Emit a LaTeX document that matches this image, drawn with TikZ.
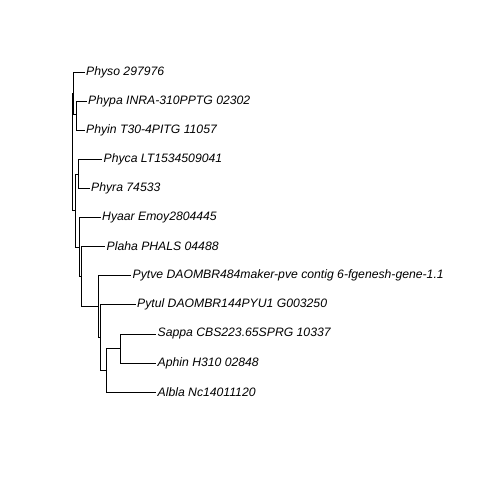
\documentclass[tikz,border=0pt]{standalone}
\usepackage{fontspec}
\setmainfont{Liberation Sans}
\usepackage{tikz}

\begin{document}
\begin{tikzpicture}[x=1pt,y=-1pt,
		tip_style/.style={anchor=west,inner xsep=1.5pt,inner ysep=0pt,font=\fontsize{12.2}{14}\selectfont\itshape},
		edge_style/.style={draw=black,line width=0.65pt}]

		\useasboundingbox[fill=white] (0,0) rectangle (480,480);

		\coordinate (n0) at (72.8,151.9);
		\coordinate (n1) at (73.3,93.4);
		\coordinate (n2) at (76.5,114.75);
		\coordinate (n3) at (75.3,210.45);
		\coordinate (n4) at (78.7,173.85);
		\coordinate (n5) at (79,247.05);
		\coordinate (n6) at (81,276.6);
		\coordinate (n7) at (98.3,306.6);
		\coordinate (n8) at (100.8,337.55);
		\coordinate (n9) at (106.5,370.3);
		\coordinate (n10) at (120.5,348.45);

		\node[tip_style] (physo) at (84.5,72)  {Physo 297976};
		\node[tip_style] (phypa) at (86.5,101.1)  {Phypa INRA-310PPTG 02302};
		\node[tip_style] (phyin) at (84.5,130.2)  {Phyin T30-4PITG 11057};
		\node[tip_style] (phyca) at (102,159.3)  {Phyca LT1534509041};
		\node[tip_style] (phyra) at (89.5,188.4)  {Phyra 74533};
		\node[tip_style] (hyaar) at (100.5,217.5)  {Hyaar Emoy2804445};
		\node[tip_style] (plaha) at (105,246.6)  {Plaha PHALS 04488};
		\node[tip_style] (pytve) at (131,275.7)  {Pytve DAOMBR484maker-pve contig 6-fgenesh-gene-1.1};
		\node[tip_style] (pytul) at (135.5,304.8)  {Pytul DAOMBR144PYU1 G003250};
		\node[tip_style] (sappa) at (156,333.9)  {Sappa CBS223.65SPRG 10337};
		\node[tip_style] (aphin) at (156,363)  {Aphin H310 02848};
		\node[tip_style] (albla) at (156,392.1)  {Albla Nc14011120};

		\draw[edge_style]  (n0) |- (n1);
		\draw[edge_style]  (n0) |- (n3);
		\draw[edge_style]  (n1) |- (physo.west);
		\draw[edge_style]  (n1) |- (n2);
		\draw[edge_style]  (n2) |- (phypa.west);
		\draw[edge_style]  (n2) |- (phyin.west);
		\draw[edge_style]  (n3) |- (n4);
		\draw[edge_style]  (n3) |- (n5);
		\draw[edge_style]  (n4) |- (phyca.west);
		\draw[edge_style]  (n4) |- (phyra.west);
		\draw[edge_style]  (n5) |- (hyaar.west);
		\draw[edge_style]  (n5) |- (n6);
		\draw[edge_style]  (n6) |- (plaha.west);
		\draw[edge_style]  (n6) |- (n7);
		\draw[edge_style]  (n7) |- (pytve.west);
		\draw[edge_style]  (n7) |- (n8);
		\draw[edge_style]  (n8) |- (pytul.west);
		\draw[edge_style]  (n8) |- (n9);
		\draw[edge_style]  (n9) |- (n10);
		\draw[edge_style]  (n9) |- (albla.west);
		\draw[edge_style]  (n10) |- (sappa.west);
		\draw[edge_style]  (n10) |- (aphin.west);

\end{tikzpicture}
\end{document}
